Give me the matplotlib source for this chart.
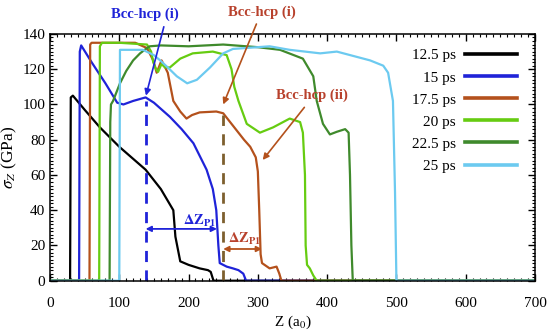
import matplotlib
matplotlib.use("Agg")
import matplotlib.pyplot as plt
from matplotlib.ticker import MultipleLocator

plt.rcParams['font.family'] = ['Liberation Serif', 'DejaVu Serif']
plt.rcParams['mathtext.fontset'] = 'stix'

# series: Z (a0) and sigma_Z (GPa)
labels = ["12.5 ps", "15 ps", "17.5 ps", "20 ps", "22.5 ps", "25 ps"]
colors = ["#000000", "#1f23d8", "#b4511c", "#66cc11", "#3f8a2c", "#6ccaf0"]

z_125 = [0, 29, 30, 33, 50, 72, 100, 138, 160, 178, 181, 188, 200, 216, 228, 232, 236, 700]
s_125 = [0, 0, 104, 105, 97, 87, 76, 63, 52, 40, 25, 11, 9, 7, 6, 5, 0, 0]

z_15 = [0, 42, 43, 45, 60, 80, 97, 106, 120, 138, 150, 173, 190, 207, 226, 235,
        240, 243, 245, 255, 264, 272, 279, 283, 700]
s_15 = [0, 0, 130, 133.5, 124, 112, 101, 100, 102, 104, 101, 93, 86, 78, 63, 52,
        40, 20, 10, 8, 7, 6, 4, 0, 0]

z_175 = [0, 57, 58, 60, 100, 123, 140, 149, 154, 158, 161, 165, 170, 178, 188, 197,
         205, 216, 240, 250, 264, 280, 289, 297, 300, 302, 304, 306, 317, 327, 331, 334, 700]
s_175 = [0, 0, 134, 135, 135, 135, 132, 125, 118, 122, 125, 122, 118, 102, 96, 92,
         94, 95.5, 96, 95, 88, 80, 76, 70, 62, 40, 15, 10, 7, 8, 4, 0, 0]

z_20 = [0, 71, 72, 75, 100, 140, 146, 149, 153, 156, 161, 166, 173, 188, 206, 235,
        255, 262, 266, 272, 284, 303, 322, 346, 361, 365, 368, 369, 371, 375, 380, 385, 700]
s_20 = [0, 0, 133, 135, 135, 134, 130, 124, 120, 118.5, 123, 121, 121, 126, 129, 130,
        128, 120, 110, 102, 89, 84, 87, 92, 90, 84, 60, 20, 9, 7, 3, 0, 0]

z_225 = [0, 86, 87, 88, 91, 101, 110, 120, 130, 140, 144, 160, 200, 250, 300, 332,
         365, 380, 385, 394, 404, 414, 426, 431, 433, 435, 437, 700]
s_225 = [0, 0, 90, 100, 102, 112, 119, 125, 129, 132, 133, 133.5, 133, 134, 132.5, 131,
         126, 116, 102, 89, 83, 84.5, 86, 84, 60, 20, 0, 0]

z_25 = [0, 100, 101, 110, 134, 150, 159, 170, 183, 198, 212, 231, 250, 264, 317, 346,
        390, 414, 462, 481, 488, 495, 498, 500, 700]
s_25 = [0, 0, 131, 131, 131, 128, 125, 121, 116, 112, 114, 121, 129, 131.5, 133, 131,
        129, 130, 125, 122, 118, 102, 50, 0, 0]

series_z = [z_125, z_15, z_175, z_20, z_225, z_25]
series_s = [s_125, s_15, s_175, s_20, s_225, s_25]

# transition markers
z_bcc_blue, s_bcc_blue = 138, 104
z_bcc_brown, s_bcc_brown = 250, 96
z_dz_blue_end, s_dz_blue = 241, 29.4
z_dz_brown_end, s_dz_brown = 306, 18

fig = plt.figure(figsize=(5.5, 3.33), dpi=100)
ax = fig.add_axes([0.0909, 0.157, 0.8818, 0.741])

for z, s, c, lab in zip(series_z, series_s, colors, labels):
    ax.plot(z, s, color=c, lw=1.6, label=lab)

blue = colors[1]
brown = colors[2]
ax.plot([z_bcc_blue, z_bcc_blue], [0, s_bcc_blue - 2], color=blue, lw=2, ls=(0, (4, 3)))
ax.plot([z_bcc_brown, z_bcc_brown], [0, s_bcc_brown - 2], color="#7d5f2e", lw=2, ls=(0, (4, 3)))

ax.set_xlim(0, 700)
ax.set_ylim(0, 140)
ax.xaxis.set_major_locator(MultipleLocator(100))
ax.xaxis.set_minor_locator(MultipleLocator(10))
ax.yaxis.set_major_locator(MultipleLocator(20))
ax.yaxis.set_minor_locator(MultipleLocator(2))
ax.tick_params(which='both', direction='in', top=True, right=True, labelsize=11)
ax.tick_params(which='major', length=5, width=1)
ax.tick_params(which='minor', length=2.5, width=0.8)
ax.tick_params(axis='x', which='major', pad=12)
for sp in ax.spines.values():
    sp.set_linewidth(1.1)

ax.set_xlabel(r"Z (a$_0$)", fontsize=11, labelpad=2)
ax.set_ylabel(r"$\sigma_Z$ (GPa)", fontsize=12.5, labelpad=2)

leg = ax.legend(loc='upper right', bbox_to_anchor=(0.975, 0.965), frameon=False,
                markerfirst=False, fontsize=11, handlelength=3.4, labelspacing=0.55,
                handletextpad=0.6, borderaxespad=0)
for h in leg.get_lines():
    h.set_linewidth(2.6)

red_txt = "#b8412c"
ax.annotate("Bcc-hcp (i)", xy=(z_bcc_blue + 0.5, s_bcc_blue + 1), xytext=(137, 151),
            ha='center', va='center', color=blue, fontsize=10.5, fontweight='bold',
            annotation_clip=False,
            arrowprops=dict(arrowstyle='-|>', color=blue, lw=1.2, mutation_scale=9,
                            shrinkA=2, shrinkB=0, relpos=(0.8, 0)))
ax.annotate("Bcc-hcp (i)", xy=(z_bcc_brown, s_bcc_brown + 4), xytext=(306, 152.5),
            ha='center', va='center', color=red_txt, fontsize=10.5, fontweight='bold',
            annotation_clip=False,
            arrowprops=dict(arrowstyle='-|>', color=brown, lw=1.2, mutation_scale=9,
                            shrinkA=2, shrinkB=0, relpos=(0.45, 0)))
ax.annotate("Bcc-hcp (ii)", xy=(307, 68.5), xytext=(378, 105),
            ha='center', va='center', color=red_txt, fontsize=10.5, fontweight='bold',
            arrowprops=dict(arrowstyle='-|>', color=brown, lw=1.2, mutation_scale=9,
                            shrinkA=2, shrinkB=0, relpos=(0.45, 0)))

ax.annotate("", xy=(z_bcc_blue, s_dz_blue), xytext=(z_dz_blue_end, s_dz_blue),
            arrowprops=dict(arrowstyle='<|-|>', color=blue, lw=1.3, mutation_scale=8,
                            shrinkA=0, shrinkB=0))
ax.text(216, 34, r"$\mathbf{\Delta Z_{P1}}$", color=blue, fontsize=10.5,
        ha='center', va='center')
ax.annotate("", xy=(z_bcc_brown, s_dz_brown), xytext=(z_dz_brown_end, s_dz_brown),
            arrowprops=dict(arrowstyle='<|-|>', color=brown, lw=1.3, mutation_scale=8,
                            shrinkA=0, shrinkB=0))
ax.text(281, 23.5, r"$\mathbf{\Delta Z_{P1}}$", color=red_txt, fontsize=10.5,
        ha='center', va='center')

fig.savefig("out.png", dpi=100)
